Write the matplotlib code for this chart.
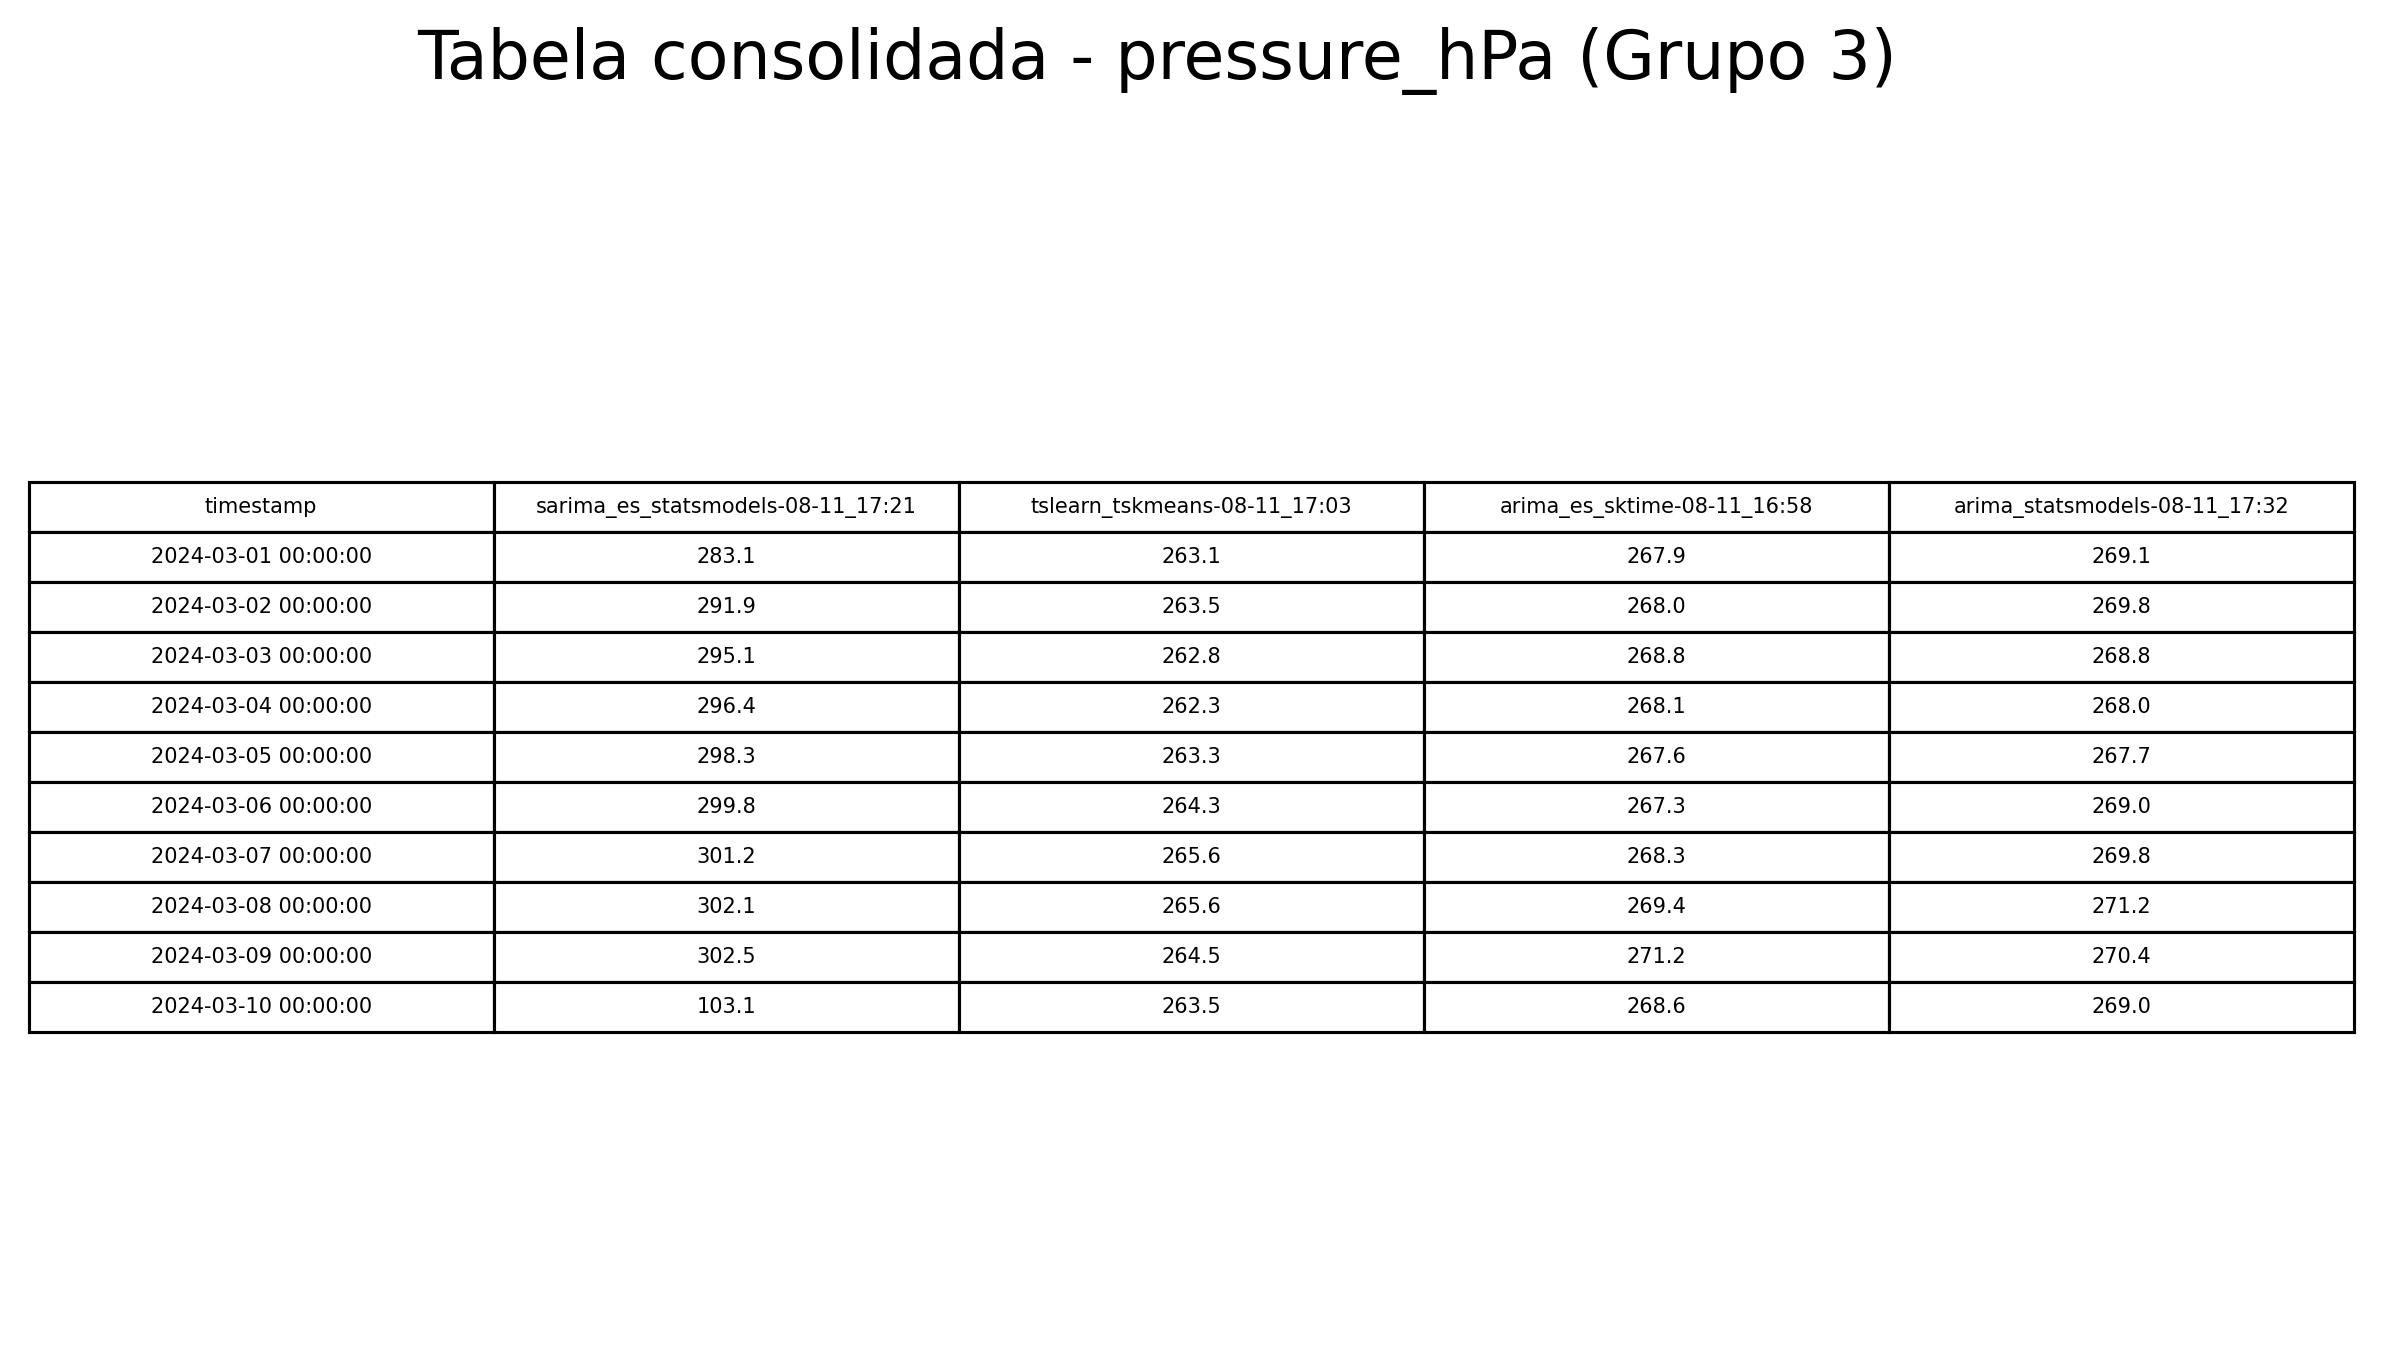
import matplotlib
matplotlib.use("Agg")
import matplotlib.pyplot as plt

columns = ["timestamp", "sarima_es_statsmodels-08-11_17:21", "tslearn_tskmeans-08-11_17:03",
           "arima_es_sktime-08-11_16:58", "arima_statsmodels-08-11_17:32"]
timestamps = ["2024-03-%02d 00:00:00" % d for d in range(1, 11)]
sarima_es = [283.1, 291.9, 295.1, 296.4, 298.3, 299.8, 301.2, 302.1, 302.5, 103.1]
tskmeans = [263.1, 263.5, 262.8, 262.3, 263.3, 264.3, 265.6, 265.6, 264.5, 263.5]
arima_es = [267.9, 268.0, 268.8, 268.1, 267.6, 267.3, 268.3, 269.4, 271.2, 268.6]
arima_sm = [269.1, 269.8, 268.8, 268.0, 267.7, 269.0, 269.8, 271.2, 270.4, 269.0]

rows = [[t, "%.1f" % a, "%.1f" % b, "%.1f" % c, "%.1f" % d]
        for t, a, b, c, d in zip(timestamps, sarima_es, tskmeans, arima_es, arima_sm)]

fig = plt.figure(figsize=(15.9, 9.1), dpi=150)
ax = fig.add_axes([0, 0, 1, 1])
ax.axis("off")
fig.text(0.485, 0.955, "Tabela consolidada - pressure_hPa (Grupo 3)", ha="center", va="center", fontsize=32)

tbl = ax.table(cellText=rows, colLabels=columns, cellLoc="center",
               bbox=[0.012, 1 - 678 / 897, 0.975, 361 / 897])
tbl.auto_set_font_size(False)
tbl.set_fontsize(10)
for cell in tbl.get_celld().values():
    cell.set_linewidth(1.5)

fig.savefig("out.png", dpi=150)
